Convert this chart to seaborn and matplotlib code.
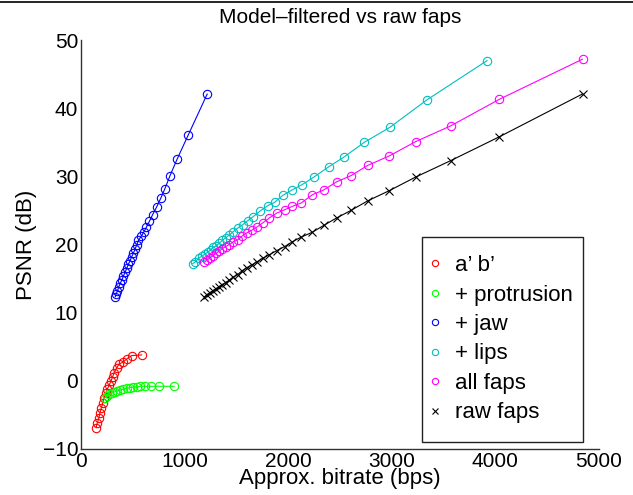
import matplotlib
matplotlib.use('Agg')
import matplotlib.pyplot as plt
from matplotlib.lines import Line2D
from matplotlib.patches import Rectangle
import pandas as pd
import seaborn as sns

# ---------------------------
# Data
# ---------------------------
ab_x = [145, 157, 171, 183, 196, 209, 222, 241, 254, 273, 290, 306, 319, 344, 370, 402, 441, 489, 586]
ab_y = [-6.9, -6.2, -5.5, -4.7, -4.0, -3.3, -2.5, -1.8, -1.2, -0.6, 0.0, 0.6, 1.2, 1.9, 2.5, 2.7, 3.2, 3.7, 3.8]

prot_x = [229, 248, 273, 299, 325, 351, 376, 409, 441, 473, 505, 537, 570, 618, 673, 756, 901]
prot_y = [-2.5, -2.3, -2.0, -1.8, -1.6, -1.5, -1.4, -1.2, -1.1, -1.0, -0.9, -0.9, -0.8, -0.8, -0.8, -0.8, -0.8]

jaw_x = [330, 340, 352, 365, 378, 395, 410, 425, 441, 457, 473, 489, 505, 521, 537, 555,
         580, 605, 630, 660, 692, 730, 770, 810, 859, 930, 1036, 1219]
jaw_y = [12.3, 12.8, 13.2, 13.8, 14.3, 14.8, 15.4, 15.9, 16.5, 17.1, 17.6, 18.2, 18.7, 19.3, 19.9, 20.6,
         21.2, 21.8, 22.5, 23.4, 24.4, 25.5, 26.8, 28.2, 30.1, 32.6, 36.1, 42.1]

lips_x = [1078, 1100, 1136, 1168, 1197, 1226, 1252, 1277, 1306, 1335, 1364, 1397, 1432, 1470, 1512, 1561,
          1609, 1663, 1728, 1802, 1870, 1947, 2037, 2136, 2249, 2391, 2536, 2735, 2983, 3337, 3922]
lips_y = [17.2, 17.4, 18.0, 18.3, 18.6, 18.9, 19.2, 19.6, 19.8, 20.2, 20.6, 21.0, 21.4, 21.9, 22.4, 22.9,
          23.5, 24.1, 24.9, 25.7, 26.2, 27.2, 28.0, 28.8, 29.9, 31.4, 32.8, 35.0, 37.2, 41.2, 47.0]

all_x = [1190, 1213, 1242, 1271, 1303, 1332, 1364, 1397, 1432, 1470, 1513, 1551, 1600, 1648, 1702, 1757,
         1818, 1889, 1966, 2040, 2127, 2233, 2343, 2468, 2606, 2767, 2976, 3231, 3568, 4038, 4843]
all_y = [17.4, 17.7, 18.0, 18.3, 18.7, 19.0, 19.4, 19.7, 20.0, 20.4, 20.7, 21.2, 21.7, 22.1, 22.6, 23.2,
         23.9, 24.6, 25.1, 25.6, 26.1, 27.3, 28.0, 29.2, 30.1, 31.6, 33.0, 35.1, 37.4, 41.3, 47.2]

raw_x = all_x
raw_y = [12.3, 12.6, 12.9, 13.2, 13.5, 13.8, 14.1, 14.4, 14.8, 15.2, 15.6, 16.1, 16.6, 17.0, 17.5, 18.0,
         18.5, 19.1, 19.7, 20.4, 21.1, 21.8, 22.8, 23.9, 25.0, 26.4, 27.9, 29.9, 32.3, 35.8, 42.1]

series = [
    ("a\u2019 b\u2019", ab_x, ab_y, "#ff0000", "o"),
    ("+ protrusion", prot_x, prot_y, "#00ff00", "o"),
    ("+ jaw", jaw_x, jaw_y, "#0000ff", "o"),
    ("+ lips", lips_x, lips_y, "#00bfbf", "o"),
    ("all faps", all_x, all_y, "#ff00ff", "o"),
    ("raw faps", raw_x, raw_y, "#000000", "x"),
]

# ---------------------------
# Plot
# ---------------------------
sns.set_style("white")
plt.rcParams['font.family'] = ['Liberation Sans', 'DejaVu Sans']
plt.rcParams['text.color'] = 'black'
plt.rcParams['axes.labelcolor'] = 'black'
plt.rcParams['xtick.color'] = 'black'
plt.rcParams['ytick.color'] = 'black'

fig = plt.figure(figsize=(6.33, 4.95), dpi=100)
ax = fig.add_axes([0.128, 0.093, 0.818, 0.826])

handles = []
for name, xs, ys, color, mk in series:
    df = pd.DataFrame({"x": xs, "y": ys})
    sns.lineplot(data=df, x="x", y="y", ax=ax, color=color, linewidth=0.8,
                 marker=mk, markersize=6, markerfacecolor="none",
                 markeredgecolor=color, markeredgewidth=0.8, legend=False)
    handles.append(Line2D([], [], linestyle="none", marker=mk, markersize=4.5,
                          markerfacecolor="none", markeredgecolor=color,
                          markeredgewidth=0.8, label=name))

ax.set_xlim(0, 5000)
ax.set_ylim(-10, 50)
ax.set_xticks([0, 1000, 2000, 3000, 4000, 5000])
ax.set_yticks([-10, 0, 10, 20, 30, 40, 50])
ax.tick_params(direction="in", length=4, width=0.8, labelsize=15, pad=2)
for s in ["top", "right"]:
    ax.spines[s].set_visible(False)
for s in ["left", "bottom"]:
    ax.spines[s].set_color("#333333")
    ax.spines[s].set_linewidth(1.0)

ax.set_xlabel("Approx. bitrate (bps)", fontsize=16, labelpad=-2)
ax.set_ylabel("PSNR (dB)", fontsize=16, labelpad=4)
ax.set_title("Model\u2013filtered vs raw faps", fontsize=15, pad=12)

# legend box (MATLAB style) + frameless legend inside it
ax.add_patch(Rectangle((0.658, 0.017), 0.311, 0.501, transform=ax.transAxes,
                       fill=False, edgecolor="#222222", linewidth=1.0, clip_on=False))
ax.legend(handles=handles, loc="upper left", bbox_to_anchor=(0.6705, 0.474),
          borderaxespad=0, borderpad=0, fontsize=16, frameon=False,
          handlelength=0.6, handletextpad=0.6, labelspacing=0.38)

fig.add_artist(Line2D([0, 1], [0.996, 0.996], color="black", linewidth=1.2,
                      transform=fig.transFigure))

plt.savefig("out.png", dpi=100)
plt.close()
